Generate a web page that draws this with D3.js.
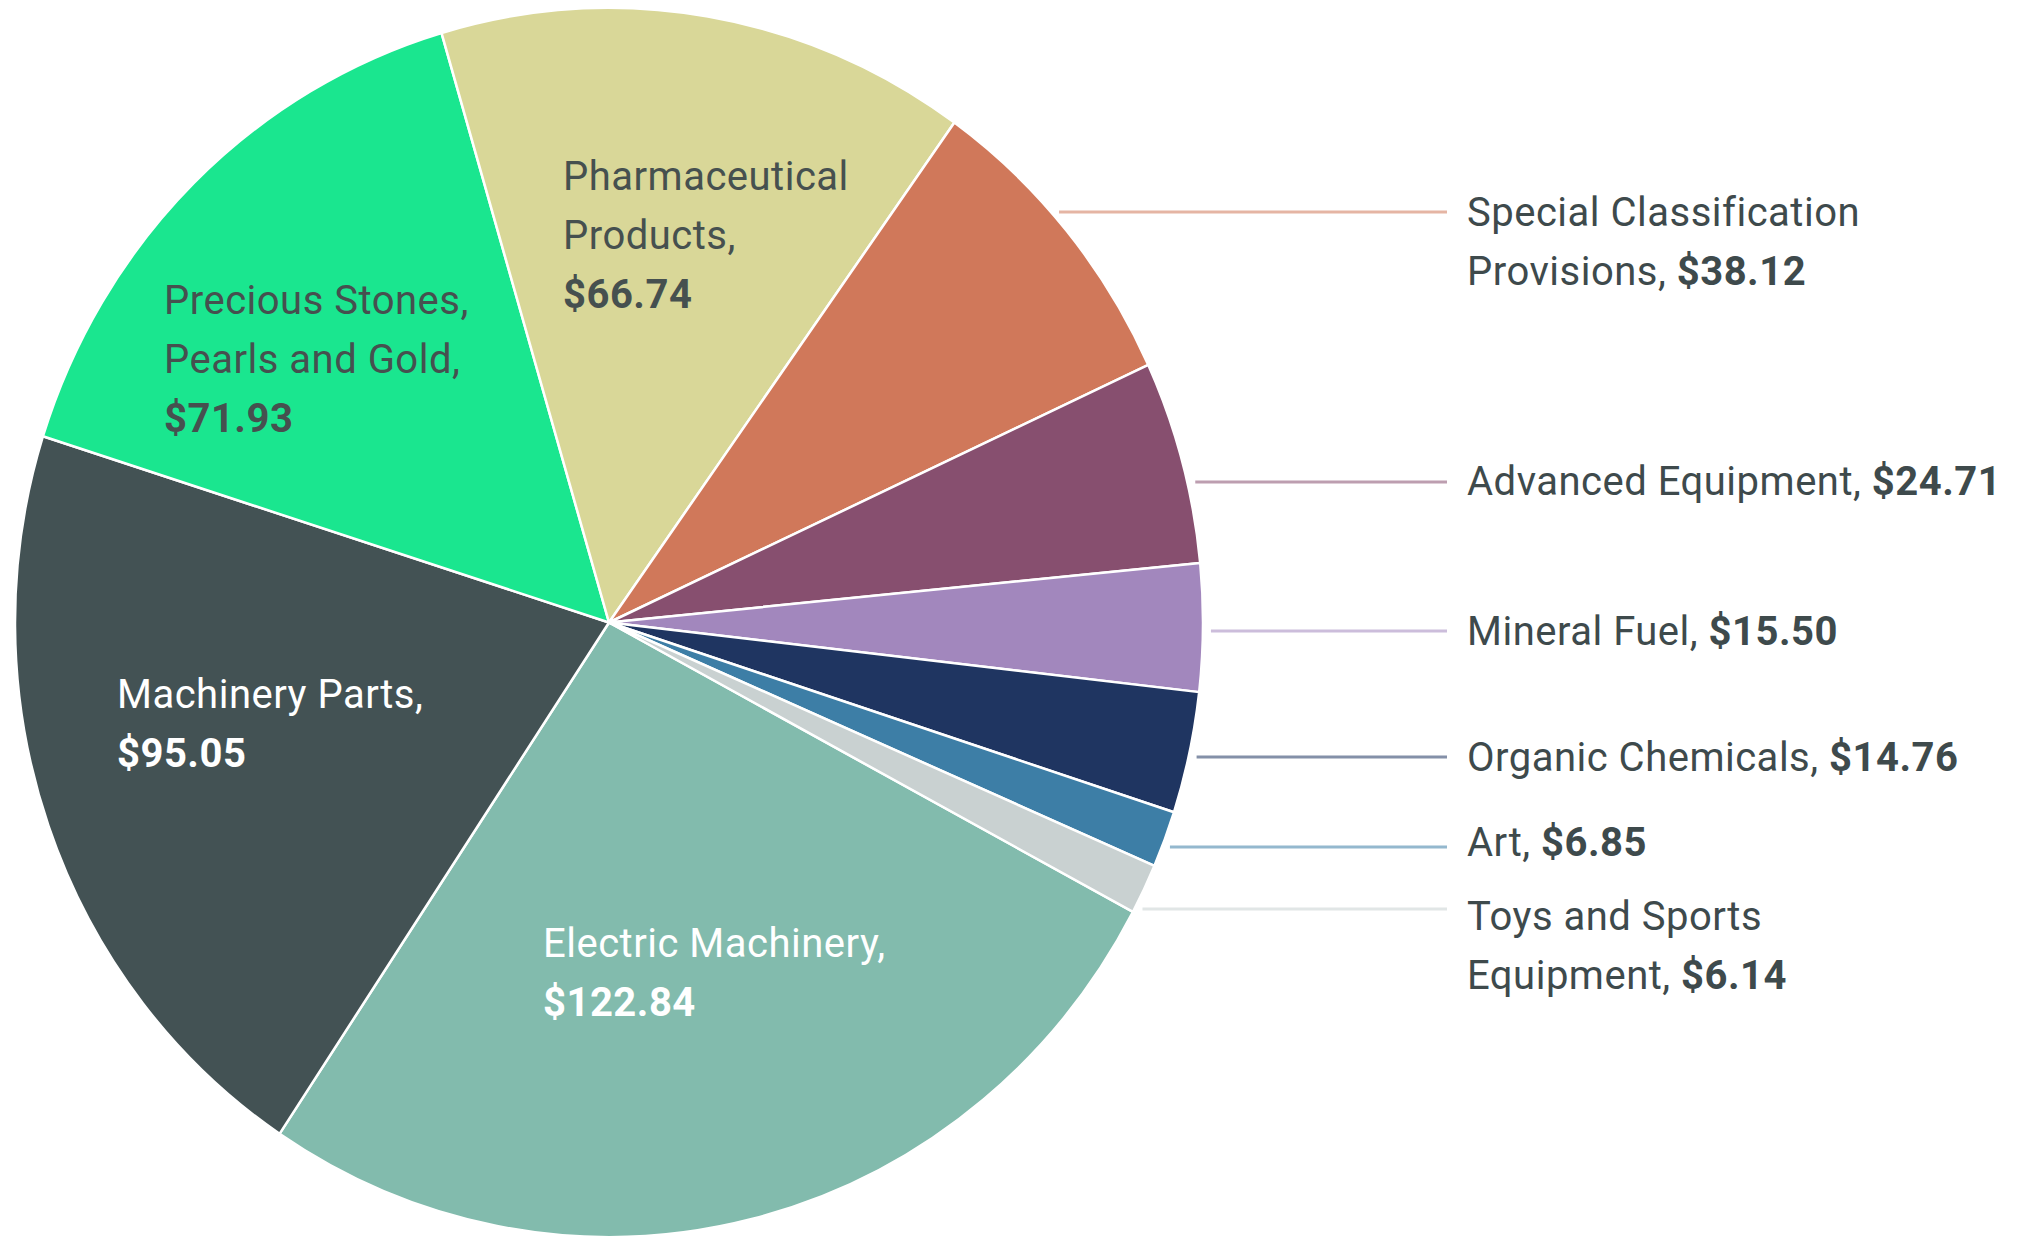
<!DOCTYPE html>
<html>
<head>
<meta charset="utf-8">
<script src="https://cdn.jsdelivr.net/npm/d3@7"></script>
<style>
  html, body { margin: 0; padding: 0; background: #ffffff; }
  svg { display: block; }
  text { font-family: Roboto, "Liberation Sans", sans-serif; letter-spacing: 0.5px; }
</style>
</head>
<body>
<svg id="chart" width="2020" height="1238"></svg>
<script>
// Export values by product group (billions of dollars), clockwise from the lower right
const categories = [
  "Electric Machinery",
  "Machinery Parts",
  "Precious Stones, Pearls and Gold",
  "Pharmaceutical Products",
  "Special Classification Provisions",
  "Advanced Equipment",
  "Mineral Fuel",
  "Organic Chemicals",
  "Art",
  "Toys and Sports Equipment"
];
const values = [122.84, 95.05, 71.93, 66.74, 38.12, 24.71, 15.50, 14.76, 6.85, 6.14];
const colors = ["#82bbad", "#435254", "#1ae68f", "#d9d798", "#d0785a",
                "#874f6f", "#a287bd", "#1f3561", "#3d7ea6", "#c9d1d1"];

// Label placement: inside labels sit on their slice, the rest hang off leader lines.
// breaks = word counts after which the name wraps; ty = vertical centre of first line.
const labelLayout = [
  { inside: true,  x: 543, ty: 943, breaks: [], light: true },
  { inside: true,  x: 117, ty: 694, breaks: [], light: true },
  { inside: true,  x: 164, ty: 300, breaks: [2] },
  { inside: true,  x: 563, ty: 176, breaks: [1] },
  { inside: false, ly: 212, ty: 212, breaks: [2] },
  { inside: false, ly: 482, ty: 481, breaks: [] },
  { inside: false, ly: 631, ty: 631, breaks: [] },
  { inside: false, ly: 757, ty: 757, breaks: [] },
  { inside: false, ly: 847, ty: 842, breaks: [] },
  { inside: false, ly: 909, ty: 916, breaks: [3] }
];

const W = 2020, H = 1238;
const cx = 609, cy = 622.5, R = 594, squash = 1.0345;
const startDeg = 118.1;
const fontSize = 40, lineH = 59, capHalf = fontSize * 0.711 / 2;
const textColor = "#3e4a4c";
const leaderEnd = 1447, labelX = 1467, leaderGap = 8;

const svg = d3.select("#chart");

const pie = d3.pie()
  .sort(null)
  .value(d => d)
  .startAngle(startDeg * Math.PI / 180)
  .endAngle(startDeg * Math.PI / 180 + 2 * Math.PI);
const arc = d3.arc().innerRadius(0).outerRadius(R);
const arcs = pie(values);

const g = svg.append("g")
  .attr("transform", `translate(${cx},${cy}) scale(1,${squash})`);

g.selectAll("path.slice")
  .data(arcs)
  .join("path")
  .attr("class", "slice")
  .attr("d", arc)
  .attr("fill", (d, i) => colors[i])
  .attr("stroke", "#ffffff")
  .attr("stroke-width", 2.5)
  .attr("stroke-linejoin", "round")
  .attr("vector-effect", "non-scaling-stroke");

const fmt = v => "$" + v.toFixed(2);

function nameLines(name, breaks) {
  const words = name.split(" ");
  const lines = [];
  let prev = 0;
  breaks.forEach(b => { lines.push(words.slice(prev, b).join(" ")); prev = b; });
  lines.push(words.slice(prev).join(" "));
  return lines;
}

const labels = svg.append("g").attr("class", "labels");

categories.forEach((name, i) => {
  const L = labelLayout[i];
  const lines = nameLines(name, L.breaks);
  lines[lines.length - 1] += ",";

  if (L.inside) {
    const fill = L.light ? "#ffffff" : "#46504f";
    const t = labels.append("text")
      .attr("x", L.x)
      .attr("y", L.ty + capHalf)
      .attr("font-size", fontSize)
      .attr("fill", fill);
    lines.forEach((ln, k) => {
      t.append("tspan").attr("x", L.x).attr("dy", k === 0 ? 0 : lineH).text(ln);
    });
    t.append("tspan").attr("x", L.x).attr("dy", lineH)
      .attr("font-weight", 700).text(fmt(values[i]));
  } else {
    // leader line starts just off the (slightly tall) ellipse edge at this height
    const yy = (L.ly - cy) / (R * squash);
    const edgeX = cx + R * Math.sqrt(Math.max(0, 1 - yy * yy));
    labels.append("line")
      .attr("x1", edgeX + leaderGap)
      .attr("x2", leaderEnd)
      .attr("y1", L.ly)
      .attr("y2", L.ly)
      .attr("stroke", colors[i])
      .attr("stroke-opacity", 0.55)
      .attr("stroke-width", 3);

    const t = labels.append("text")
      .attr("x", labelX)
      .attr("y", L.ty + capHalf)
      .attr("font-size", fontSize)
      .attr("fill", textColor);
    lines.forEach((ln, k) => {
      t.append("tspan").attr("x", labelX).attr("dy", k === 0 ? 0 : lineH)
        .text(ln + (k === lines.length - 1 ? " " : ""));
    });
    t.append("tspan").attr("font-weight", 700).text(fmt(values[i]));
  }
});
</script>
</body>
</html>
